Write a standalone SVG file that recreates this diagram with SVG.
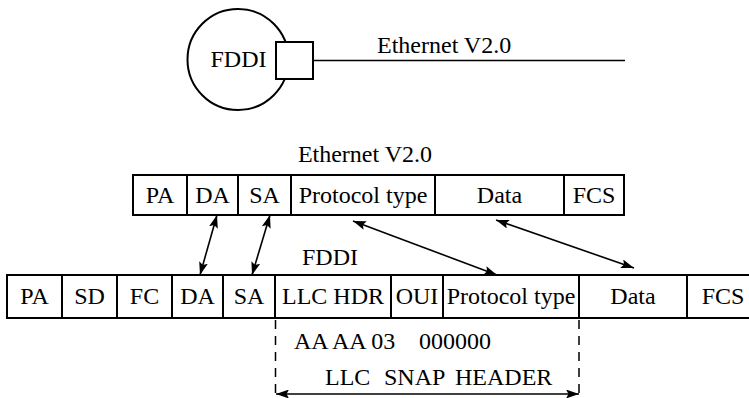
<svg xmlns="http://www.w3.org/2000/svg" width="749" height="398" viewBox="0 0 749 398">
<style>
text{font-family:'Liberation Serif','Times New Roman',serif;font-size:24px;fill:#000}
.m{text-anchor:middle}
.b{fill:#fff;stroke:#000;stroke-width:2}
.d{stroke:#000;stroke-width:2}
.c{stroke:#000;stroke-width:1.6;fill:none}
.dash{stroke:#000;stroke-width:1.5;stroke-dasharray:9 7}
</style>
<defs>
<marker id="ah" viewBox="0 0 13 9" refX="13" refY="4.5" markerWidth="13" markerHeight="9" markerUnits="userSpaceOnUse" orient="auto-start-reverse">
<path d="M0,0 L13,4.5 L0,9 L2.5,4.5 Z" fill="#000"/>
</marker>
</defs>
<rect width="749" height="398" fill="#fff"/>

<g id="fddi-ring">
<circle cx="238" cy="59.5" r="50.5" fill="#fff" stroke="#000" stroke-width="2"/>
<text class="m" x="238.5" y="67">FDDI</text>
</g>
<g id="bridge">
<rect class="b" x="276" y="42" width="37" height="37"/>
</g>
<g id="ethernet-segment">
<line x1="313" y1="60.5" x2="625" y2="60.5" stroke="#000" stroke-width="1.6"/>
<text x="377" y="53">Ethernet V2.0</text>
</g>

<g id="ethernet-frame">
<text class="m" x="365" y="162">Ethernet V2.0</text>
<rect class="b" x="133" y="175" width="491" height="40"/>
<line class="d" x1="187" y1="175" x2="187" y2="215"/>
<line class="d" x1="238" y1="175" x2="238" y2="215"/>
<line class="d" x1="291" y1="175" x2="291" y2="215"/>
<line class="d" x1="435" y1="175" x2="435" y2="215"/>
<line class="d" x1="564" y1="175" x2="564" y2="215"/>
<text class="m" x="160" y="203">PA</text>
<text class="m" x="212.5" y="203">DA</text>
<text class="m" x="264.5" y="203">SA</text>
<text class="m" x="363" y="203">Protocol type</text>
<text class="m" x="499.5" y="203">Data</text>
<text class="m" x="594" y="203">FCS</text>
</g>

<g id="fddi-frame">
<text class="m" x="330" y="265">FDDI</text>
<rect class="b" x="7" y="275" width="750" height="43"/>
<line class="d" x1="62" y1="275" x2="62" y2="318"/>
<line class="d" x1="117" y1="275" x2="117" y2="318"/>
<line class="d" x1="172" y1="275" x2="172" y2="318"/>
<line class="d" x1="223" y1="275" x2="223" y2="318"/>
<line class="d" x1="275" y1="275" x2="275" y2="318"/>
<line class="d" x1="391" y1="275" x2="391" y2="318"/>
<line class="d" x1="443" y1="275" x2="443" y2="318"/>
<line class="d" x1="579" y1="275" x2="579" y2="318"/>
<line class="d" x1="687" y1="275" x2="687" y2="318"/>
<text class="m" x="34.5" y="304">PA</text>
<text class="m" x="89.5" y="304">SD</text>
<text class="m" x="144.5" y="304">FC</text>
<text class="m" x="197.5" y="304">DA</text>
<text class="m" x="249" y="304">SA</text>
<text class="m" x="333" y="304">LLC HDR</text>
<text class="m" x="417" y="304">OUI</text>
<text class="m" x="511" y="304">Protocol type</text>
<text class="m" x="633" y="304">Data</text>
<text class="m" x="723" y="304">FCS</text>
</g>

<g id="llc-snap-header">
<line class="dash" x1="275.5" y1="320" x2="275.5" y2="397"/>
<line class="dash" x1="579" y1="320" x2="579" y2="397"/>
<text y="349"><tspan x="294">AA AA 03</tspan><tspan x="419">000000</tspan></text>
<text y="385"><tspan x="325">LLC</tspan><tspan x="384">SNAP</tspan><tspan x="455">HEADER</tspan></text>
</g>

<g id="connectors">
<line class="c" x1="217" y1="215" x2="200" y2="275" marker-start="url(#ah)" marker-end="url(#ah)"/>
<line class="c" x1="270" y1="215" x2="252" y2="275" marker-start="url(#ah)" marker-end="url(#ah)"/>
<line class="c" x1="353" y1="221" x2="497" y2="275" marker-start="url(#ah)" marker-end="url(#ah)"/>
<line class="c" x1="496" y1="220" x2="634" y2="268" marker-start="url(#ah)" marker-end="url(#ah)"/>
<line class="c" x1="276" y1="394" x2="579" y2="394" marker-start="url(#ah)" marker-end="url(#ah)"/>
</g>
</svg>
